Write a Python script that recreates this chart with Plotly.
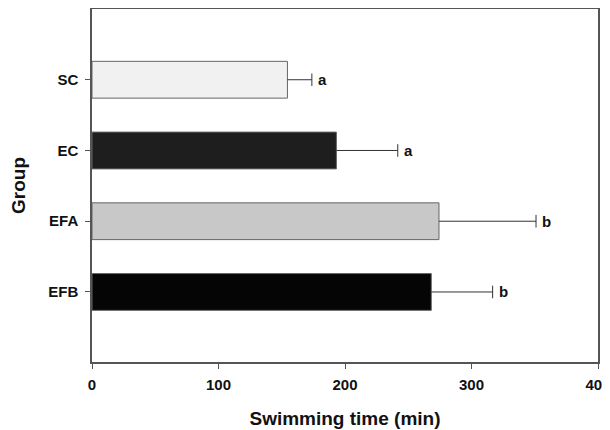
import plotly.graph_objects as go

groups = ["SC", "EC", "EFA", "EFB"]
swim_time = [154.5, 193.2, 274.3, 268.2]
swim_err = [19.3, 48.5, 76.7, 48.5]
sig_letters = ["a", "a", "b", "b"]
bar_colors = ["#f1f1f1", "#1e1e1e", "#c8c8c8", "#050505"]
x_ticks = [0, 100, 200, 300, 400]

FONT = "Liberation Sans"
TXT = "#111111"

fig = go.Figure()
fig.add_trace(go.Bar(
    y=groups,
    x=swim_time,
    orientation="h",
    width=0.52,
    marker=dict(color=bar_colors, line=dict(color="#666666", width=1)),
    showlegend=False,
))

# one-sided (upper) error bars: stem from bar end to cap
err_x, err_y = [], []
for g, v, e in zip(groups, swim_time, swim_err):
    err_x += [v, v + e, None]
    err_y += [g, g, None]
fig.add_trace(go.Scatter(
    x=err_x, y=err_y, mode="lines",
    line=dict(color="#333333", width=1),
    showlegend=False, hoverinfo="skip",
))
fig.add_trace(go.Scatter(
    x=[v + e for v, e in zip(swim_time, swim_err)], y=groups, mode="markers",
    marker=dict(symbol="line-ns", size=9, line=dict(color="#333333", width=1)),
    showlegend=False, hoverinfo="skip",
))

for g, v, e, s in zip(groups, swim_time, swim_err, sig_letters):
    fig.add_annotation(x=v + e, y=g, text=s, showarrow=False,
                       xanchor="left", yanchor="middle", xshift=4,
                       font=dict(family=FONT, size=15, color=TXT, weight="bold"))

fig.update_layout(
    width=602, height=422,
    margin=dict(l=84, r=12, t=1, b=68),
    paper_bgcolor="white", plot_bgcolor="white",
)
fig.update_xaxes(
    range=[0, 400], tickvals=x_ticks, ticktext=[str(t) for t in x_ticks],
    automargin=False, ticklabeloverflow="allow",
    showline=True, mirror=True, linecolor="#555555", linewidth=1.5,
    ticks="outside", ticklen=5, tickcolor="#555555",
    ticklabelstandoff=3,
    showgrid=False, zeroline=False,
    tickfont=dict(family=FONT, size=15, color=TXT, weight="bold"),
    title=dict(text="Swimming time (min)", standoff=20,
               font=dict(family=FONT, size=19, color=TXT, weight="bold")),
)
fig.update_yaxes(
    categoryorder="array", categoryarray=groups, range=[3.99, -1.0],
    automargin=False,
    showline=True, mirror=True, linecolor="#555555", linewidth=1.5,
    ticks="outside", ticklen=5, tickcolor="#555555",
    ticklabelstandoff=4,
    showgrid=False, zeroline=False,
    tickfont=dict(family=FONT, size=15, color=TXT, weight="bold"),
    title=dict(text="Group", standoff=20,
               font=dict(family=FONT, size=19, color=TXT, weight="bold")),
)

fig.write_html("out.html")
